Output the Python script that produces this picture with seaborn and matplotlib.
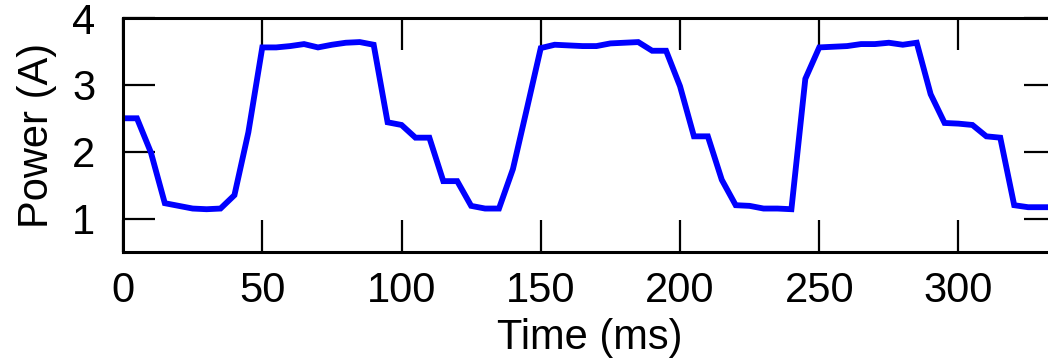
import numpy as np
import pandas as pd
import seaborn as sns
import matplotlib
matplotlib.use("Agg")
import matplotlib.pyplot as plt

# Current draw sampled every 5 ms
time_ms = list(range(0, 340, 5))
power_a = [
    2.50, 2.50, 1.99, 1.23, 1.19, 1.15, 1.14, 1.15, 1.35, 2.29,
    3.56, 3.56, 3.58, 3.61, 3.56, 3.60, 3.63, 3.64, 3.60, 2.44,
    2.40, 2.21, 2.21, 1.56, 1.56, 1.19, 1.15, 1.15, 1.74, 2.64,
    3.55, 3.60, 3.59, 3.58, 3.58, 3.62, 3.63, 3.64, 3.51, 3.51,
    2.98, 2.23, 2.23, 1.58, 1.20, 1.19, 1.15, 1.15, 1.14, 3.09,
    3.56, 3.57, 3.58, 3.61, 3.61, 3.63, 3.60, 3.63, 2.86, 2.43,
    2.42, 2.40, 2.23, 2.21, 1.20, 1.17, 1.17, 1.17,
]
x_ticks = [0, 50, 100, 150, 200, 250, 300]
y_ticks = [1, 2, 3, 4]

df = pd.DataFrame({"Time (ms)": time_ms, "Power (A)": power_a})

sns.set_theme(style="white")
plt.rcParams["font.family"] = ["Liberation Sans", "DejaVu Sans"]

fig = plt.figure(figsize=(10.48, 3.6), dpi=100)
ax = fig.add_axes([0.1174, 0.30, 0.8902, 0.65])

sns.lineplot(data=df, x="Time (ms)", y="Power (A)", ax=ax,
             color="#0000ff", linewidth=4.2, solid_joinstyle="miter")

ax.set_xlim(0, 335)
ax.set_ylim(0.5, 4)
ax.set_xticks(x_ticks)
ax.set_yticks(y_ticks)
ax.set_xticklabels([str(v) for v in x_ticks])
ax.set_yticklabels([str(v) for v in y_ticks])

for s in ax.spines.values():
    s.set_visible(True)
    s.set_color("black")
    s.set_linewidth(2.2)

ax.tick_params(axis="both", which="both", direction="in", length=23,
               width=1.6, color="black", labelsize=30, labelcolor="black",
               top=True, right=True, bottom=True, left=True)
ax.tick_params(axis="x", pad=14)
ax.tick_params(axis="y", pad=20)

ax.set_xlabel("Time (ms)", fontsize=30, color="black", labelpad=5)
ax.set_ylabel("Power (A)", fontsize=30, color="black", labelpad=11)

fig.savefig("out.png", dpi=100)
